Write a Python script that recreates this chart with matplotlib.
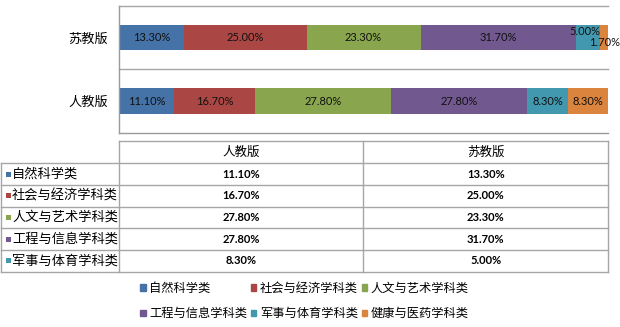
import matplotlib
matplotlib.use('Agg')
import matplotlib.pyplot as plt
from matplotlib.patches import Patch, Rectangle

# ---------------- data ----------------
editions = ['人教版', '苏教版']          # y order: bottom -> top
categories = ['自然科学类', '社会与经济学科类', '人文与艺术学科类',
              '工程与信息学科类', '军事与体育学科类', '健康与医药学科类']
renjiao = [11.1, 16.7, 27.8, 27.8, 8.3, 8.3]
sujiao = [13.3, 25.0, 23.3, 31.7, 5.0, 1.7]
table_columns = ['人教版', '苏教版']
colors = ['#4572A7', '#AA4643', '#89A54E', '#71588F', '#4198AF', '#DB843D']

CJK = ['Noto Sans CJK SC', 'DejaVu Sans']
NUM = ['Lato', 'DejaVu Sans']
plt.rcParams['font.family'] = CJK

W, H = 620, 327
fig = plt.figure(figsize=(W / 100, H / 100), dpi=100)

# ---------------- bar chart ----------------
x0, x1, y0, y1 = 119.3, 608.3, 6.0, 132.7
ax = fig.add_axes([x0 / W, 1 - y1 / H, (x1 - x0) / W, (y1 - y0) / H])

series = {0: renjiao, 1: sujiao}
# per-label nudges (points) for crowded labels: (category index, edition index)
nudges = {(4, 1): (-2.2, 4.3), (5, 1): (0.6, -3.6)}
for yi, vals in series.items():
    left = 0.0
    for ci, v in enumerate(vals):
        ax.barh(yi, v, left=left, height=0.4, color=colors[ci], linewidth=0)
        dx, dy = nudges.get((ci, yi), (0, 0))
        ax.annotate(f'{v:.2f}%', xy=(left + v / 2, yi), xytext=(dx, dy),
                    textcoords='offset points', ha='center', va='center',
                    fontsize=8, family=NUM, color='#111111')
        left += v

ax.set_xlim(0, 100)
ax.set_ylim(-0.5, 1.5)
ax.set_yticks([0, 1])
ax.set_yticklabels(editions, fontsize=9.5)
ax.tick_params(axis='y', length=0, pad=8)
ax.set_xticks([])
for sp in ['top', 'right']:
    ax.spines[sp].set_visible(False)
for sp in ['left', 'bottom']:
    ax.spines[sp].set_color('#9a9a9a')
    ax.spines[sp].set_linewidth(1.0)
for gy in [0.5, 1.5]:
    ax.axhline(gy, color='#a6a6a6', linewidth=1.0, zorder=0, clip_on=False)

# ---------------- data table ----------------
tax = fig.add_axes([0, 0, 1, 1])
tax.set_xlim(0, W)
tax.set_ylim(H, 0)
tax.axis('off')
lc = '#a6a6a6'
col_x = [1.0, x0, 363.0, x1]
hdr_top, hdr_bot, row_h, clip_y = 140.7, 163.3, 21.7, 272.0

tax.plot([col_x[1], col_x[3]], [hdr_top, hdr_top], color=lc, lw=1)
for r in range(len(categories)):
    yy = hdr_bot + r * row_h
    if yy < clip_y:
        tax.plot([col_x[0], col_x[3]], [yy, yy], color=lc, lw=1)
tax.plot([col_x[0], col_x[0]], [hdr_bot, clip_y], color=lc, lw=1)
for cx in col_x[1:]:
    tax.plot([cx, cx], [hdr_top, clip_y], color=lc, lw=1)

for j, name in enumerate(table_columns):
    tax.text((col_x[j + 1] + col_x[j + 2]) / 2, (hdr_top + hdr_bot) / 2, name,
             ha='center', va='center', fontsize=9)

col_vals = [renjiao, sujiao]
for r, cat in enumerate(categories):
    yc = hdr_bot + (r + 0.5) * row_h
    if yc + 6 > clip_y:
        continue
    tax.add_patch(Rectangle((5.5, yc - 2.5), 5, 5, color=colors[r], lw=0))
    tax.text(12, yc, cat, ha='left', va='center', fontsize=9.5, weight='medium')
    for j in range(2):
        tax.text((col_x[j + 1] + col_x[j + 2]) / 2, yc, f'{col_vals[j][r]:.2f}%',
                 ha='center', va='center', fontsize=8, family=NUM, weight='bold')

# ---------------- legend ----------------
handles = [Patch(color=c, label=l) for c, l in zip(colors, categories)]
order = [0, 3, 1, 4, 2, 5]
leg = fig.legend([handles[i] for i in order], [categories[i] for i in order],
                 ncol=3, loc='upper left',
                 bbox_to_anchor=(140 / W, 1 - 282 / H), frameon=False,
                 handlelength=0.45, handleheight=0.45,
                 handletextpad=0.3, columnspacing=0.3, labelspacing=1.0,
                 borderpad=0, borderaxespad=0,
                 prop={'size': 8.8, 'weight': 'medium'})

fig.savefig('out.png', dpi=100)
